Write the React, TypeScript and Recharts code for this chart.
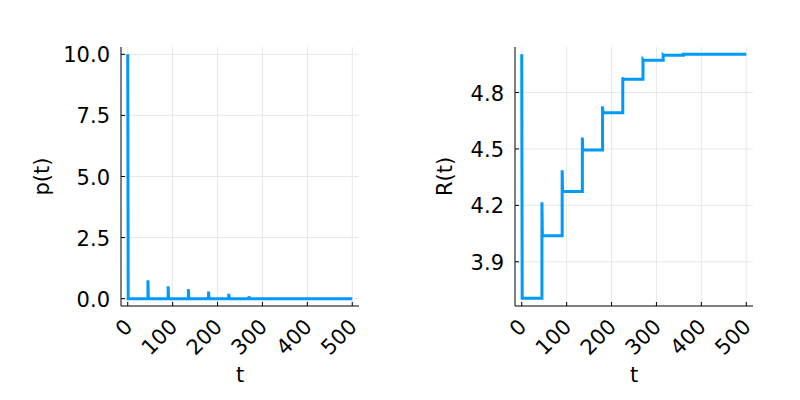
import { LineChart, Line, XAxis, YAxis, CartesianGrid, Label } from 'recharts';

// dosing every 45 time units
const doseTimes = [0, 45, 90, 135, 180, 225, 270, 315, 360, 405, 450, 495];
const pPeaks = [10, 0.75, 0.51, 0.39, 0.29, 0.2, 0.1, 0.05, 0, 0, 0, 0];
const rPeaks = [5.003, 4.216, 4.387, 4.561, 4.727, 4.88, 4.975, 5.0, 5.003, 5.003, 5.003, 5.003];
const rLevels = [3.706, 4.039, 4.274, 4.494, 4.692, 4.871, 4.972, 4.998, 5.003, 5.003, 5.003, 5.003];
const tEnd = 500;

const tTicks = [0, 100, 200, 300, 400, 500];
const pTicks = [0, 2.5, 5, 7.5, 10];
const rTicks = [3.9, 4.2, 4.5, 4.8];

const BLUE = '#009AFA';
const GRID = '#e8e8e8';
const FONT = 21;

function buildP() {
  const rows: { t: number; v: number }[] = [];
  doseTimes.forEach((t, k) => {
    if (k > 0) rows.push({ t, v: 0 });
    rows.push({ t, v: pPeaks[k] });
    rows.push({ t: t + 1, v: 0 });
  });
  rows.push({ t: tEnd, v: 0 });
  return rows;
}

function buildR() {
  const rows: { t: number; v: number }[] = [];
  doseTimes.forEach((t, k) => {
    if (k > 0) rows.push({ t, v: rLevels[k - 1] });
    rows.push({ t, v: rPeaks[k] });
    rows.push({ t: t + 1, v: rLevels[k] });
  });
  rows.push({ t: tEnd, v: rLevels[rLevels.length - 1] });
  return rows;
}

const pData = buildP();
const rData = buildR();

function XTick({ x, y, payload }: any) {
  return (
    <g>
      <line x1={x} y1={y} x2={x} y2={y - 4} stroke="#000" />
      <text
        transform={`translate(${x + 1},${y + 17}) rotate(-45)`}
        dy={7}
        textAnchor="end"
        fontSize={FONT}
        fill="#000"
      >
        {payload.value}
      </text>
    </g>
  );
}

function makeYTick(digits: number) {
  return ({ x, y, payload }: any) => (
    <g>
      <line x1={x} y1={y} x2={x + 4} y2={y} stroke="#000" />
      <text x={x - 11} y={y + 8} textAnchor="end" fontSize={FONT} fill="#000">
        {Number(payload.value).toFixed(digits)}
      </text>
    </g>
  );
}

function xTitle(text: string) {
  return (props: any) => {
    const vb = props.viewBox;
    return (
      <text x={vb.x + vb.width / 2} y={vb.y + 76} textAnchor="middle" fontSize={FONT} fill="#000">
        {text}
      </text>
    );
  };
}

function yTitle(text: string, baseX: number) {
  return (props: any) => {
    const vb = props.viewBox;
    return (
      <text
        transform={`translate(${vb.x + baseX},${vb.y + vb.height / 2}) rotate(-90)`}
        textAnchor="middle"
        fontSize={FONT}
        fill="#000"
      >
        {text}
      </text>
    );
  };
}

interface PanelProps {
  data: { t: number; v: number }[];
  left: number;
  yWidth: number;
  right: number;
  domain: [number, number];
  ticks: number[];
  digits: number;
  title: string;
  titleX: number;
}

function Panel({ data, left, yWidth, right, domain, ticks, digits, title, titleX }: PanelProps) {
  return (
    <div style={{ position: 'absolute', left, top: 0 }}>
      <LineChart width={400} height={400} data={data} margin={{ top: 47, right, bottom: 0, left: 0 }}>
        <CartesianGrid stroke={GRID} horizontalValues={ticks} verticalValues={tTicks} />
        <XAxis
          dataKey="t"
          type="number"
          domain={[-15, 515]}
          ticks={tTicks}
          allowDataOverflow
          height={94}
          tickSize={0}
          tickMargin={0}
          tickLine={false}
          axisLine={{ stroke: '#000' }}
          tick={XTick}
        >
          <Label content={xTitle('t')} />
        </XAxis>
        <YAxis
          type="number"
          domain={domain}
          ticks={ticks}
          allowDataOverflow
          width={yWidth}
          tickSize={0}
          tickMargin={0}
          tickLine={false}
          axisLine={{ stroke: '#000' }}
          tick={makeYTick(digits)}
        >
          <Label content={yTitle(title, titleX)} />
        </YAxis>
        <Line
          type="linear"
          dataKey="v"
          stroke={BLUE}
          strokeWidth={3}
          dot={false}
          activeDot={false}
          isAnimationActive={false}
        />
      </LineChart>
    </div>
  );
}

export default function App() {
  return (
    <div
      style={{
        position: 'absolute',
        left: 0,
        top: 0,
        width: 800,
        height: 400,
        background: '#fff',
        fontFamily: '"DejaVu Sans", sans-serif',
      }}
    >
      <Panel
        data={pData}
        left={0}
        yWidth={121}
        right={41}
        domain={[-0.3, 10.3]}
        ticks={pTicks}
        digits={1}
        title="p(t)"
        titleX={49}
      />
      <Panel
        data={rData}
        left={400}
        yWidth={115}
        right={47}
        domain={[3.665, 5.042]}
        ticks={rTicks}
        digits={1}
        title="R(t)"
        titleX={52}
      />
    </div>
  );
}
